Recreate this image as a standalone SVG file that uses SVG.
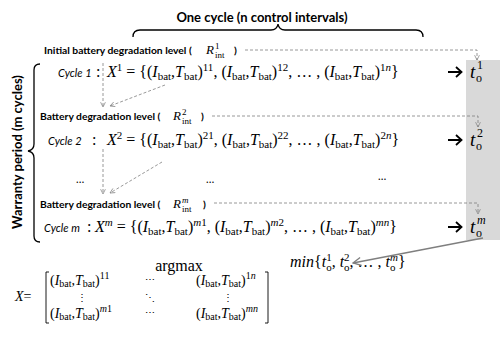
<svg xmlns="http://www.w3.org/2000/svg" width="500" height="337" viewBox="0 0 500 337">
<defs>
<style>
.b{font-family:Lato,"Liberation Sans",sans-serif;font-weight:bold;fill:#000}
.c{font-family:Lato,"Liberation Sans",sans-serif;font-style:italic;font-size:11px;fill:#000}
.m{font-family:"Liberation Serif",serif;fill:#000}
.i{font-style:italic}
.sb{font-size:11px;font-style:normal}
.sbi{font-size:11px;font-style:italic}
.ms{font-size:10px;font-style:normal}
.msi{font-size:10px;font-style:italic}
.dash{fill:none;stroke:#7f7f7f;stroke-width:0.8;stroke-dasharray:3 2;marker-end:url(#ah)}
.br{fill:none;stroke:#000;stroke-width:1.3}
</style>
<marker id="ah" viewBox="0 0 10 10" refX="9" refY="5" markerWidth="6" markerHeight="6" orient="auto" markerUnits="userSpaceOnUse">
<path d="M1,1 L9,5 L1,9" fill="none" stroke="#7f7f7f" stroke-width="1.2"/>
</marker>
<marker id="ah2" viewBox="0 0 10 10" refX="9" refY="5" markerWidth="10" markerHeight="10" orient="auto" markerUnits="userSpaceOnUse">
<path d="M1,1 L9,5 L1,9" fill="none" stroke="#7f7f7f" stroke-width="1.3"/>
</marker>
</defs>
<rect width="500" height="337" fill="#fff"/>
<rect id="panel" x="466" y="60" width="34" height="180" fill="#d9d9d9"/>

<g id="title">
<text class="b" x="262" y="22" font-size="13" text-anchor="middle">One cycle (n control intervals)</text>
<path class="br" d="M133,37 Q133,30 140,30 L271,30 Q277,30 278,24 Q279,30 285,30 L416,30 Q423,30 423,37"/>
</g>

<g id="warranty">
<text class="b" x="22" y="152" font-size="13" text-anchor="middle" transform="rotate(-90 22 152)">Warranty period (m cycles)</text>
<path class="br" d="M40,64 Q34,64 34,70 L34,144 Q34,150 28,151 Q34,152 34,158 L34,236 Q34,242 40,242"/>
</g>

<g id="level1">
<text class="b" x="44" y="54" font-size="10.3">Initial battery degradation level (</text>
<text class="m i" x="206" y="54" font-size="13">R</text>
<text class="m" x="215" y="48.5" font-size="9">1</text>
<text class="m" x="215" y="57.5" font-size="9">int</text>
<text class="b" x="234" y="54" font-size="10.3">)</text>
</g>

<g id="cycle1">
<text class="c" x="58" y="77">Cycle 1</text>
<text class="m" x="96" y="77" font-size="16">:</text>
<text class="m" x="107" y="77" font-size="16"><tspan class="i">X</tspan><tspan class="sb" dy="-6">1</tspan><tspan dy="6"> = {(</tspan><tspan class="i">I</tspan><tspan class="sb" dy="3">bat</tspan><tspan dy="-3">,</tspan><tspan class="i">T</tspan><tspan class="sb" dy="3">bat</tspan><tspan dy="-3">)</tspan><tspan class="sb" dy="-6">11</tspan><tspan dy="6">,  (</tspan><tspan class="i">I</tspan><tspan class="sb" dy="3">bat</tspan><tspan dy="-3">,</tspan><tspan class="i">T</tspan><tspan class="sb" dy="3">bat</tspan><tspan dy="-3">)</tspan><tspan class="sb" dy="-6">12</tspan><tspan dy="6">, … ,  (</tspan><tspan class="i">I</tspan><tspan class="sb" dy="3">bat</tspan><tspan dy="-3">,</tspan><tspan class="i">T</tspan><tspan class="sb" dy="3">bat</tspan><tspan dy="-3">)</tspan><tspan class="sb" dy="-6">1</tspan><tspan class="sbi">n</tspan><tspan dy="6">}</tspan></text>
</g>

<g id="level2">
<text class="b" x="40" y="120" font-size="10.3">Battery degradation level (</text>
<text class="m i" x="173" y="120" font-size="13">R</text>
<text class="m" x="182" y="114.5" font-size="9">2</text>
<text class="m" x="182" y="123.5" font-size="9">int</text>
<text class="b" x="201" y="120" font-size="10.3">)</text>
</g>

<g id="cycle2">
<text class="c" x="48" y="145">Cycle 2</text>
<text class="m" x="92" y="145" font-size="16">:</text>
<text class="m" x="107" y="145" font-size="16"><tspan class="i">X</tspan><tspan class="sb" dy="-6">2</tspan><tspan dy="6"> = {(</tspan><tspan class="i">I</tspan><tspan class="sb" dy="3">bat</tspan><tspan dy="-3">,</tspan><tspan class="i">T</tspan><tspan class="sb" dy="3">bat</tspan><tspan dy="-3">)</tspan><tspan class="sb" dy="-6">21</tspan><tspan dy="6">,  (</tspan><tspan class="i">I</tspan><tspan class="sb" dy="3">bat</tspan><tspan dy="-3">,</tspan><tspan class="i">T</tspan><tspan class="sb" dy="3">bat</tspan><tspan dy="-3">)</tspan><tspan class="sb" dy="-6">22</tspan><tspan dy="6">, … ,  (</tspan><tspan class="i">I</tspan><tspan class="sb" dy="3">bat</tspan><tspan dy="-3">,</tspan><tspan class="i">T</tspan><tspan class="sb" dy="3">bat</tspan><tspan dy="-3">)</tspan><tspan class="sb" dy="-6">2</tspan><tspan class="sbi">n</tspan><tspan dy="6">}</tspan></text>
</g>

<g id="ellipses">
<text class="c" x="76" y="183" style="font-style:normal">…</text>
<text class="c" x="206" y="183" style="font-style:normal">…</text>
<text class="c" x="378" y="180" style="font-style:normal">…</text>
</g>

<g id="levelm">
<text class="b" x="40" y="208" font-size="10.3">Battery degradation level (</text>
<text class="m i" x="173" y="208" font-size="13">R</text>
<text class="m i" x="182" y="202.5" font-size="9">m</text>
<text class="m" x="182" y="211.5" font-size="9">int</text>
<text class="b" x="203" y="208" font-size="10.3">)</text>
</g>

<g id="cyclem">
<text class="c" x="44" y="232">Cycle m</text>
<text class="m" x="87" y="232" font-size="16">:</text>
<text class="m" x="95" y="232" font-size="16"><tspan class="i">X</tspan><tspan class="sbi" dy="-6">m</tspan><tspan dy="6"> = {(</tspan><tspan class="i">I</tspan><tspan class="sb" dy="3">bat</tspan><tspan dy="-3">,</tspan><tspan class="i">T</tspan><tspan class="sb" dy="3">bat</tspan><tspan dy="-3">)</tspan><tspan class="sbi" dy="-6">m</tspan><tspan class="sb">1</tspan><tspan dy="6">,  (</tspan><tspan class="i">I</tspan><tspan class="sb" dy="3">bat</tspan><tspan dy="-3">,</tspan><tspan class="i">T</tspan><tspan class="sb" dy="3">bat</tspan><tspan dy="-3">)</tspan><tspan class="sbi" dy="-6">m</tspan><tspan class="sb">2</tspan><tspan dy="6">, … ,  (</tspan><tspan class="i">I</tspan><tspan class="sb" dy="3">bat</tspan><tspan dy="-3">,</tspan><tspan class="i">T</tspan><tspan class="sb" dy="3">bat</tspan><tspan dy="-3">)</tspan><tspan class="sbi" dy="-6">mn</tspan><tspan dy="6">}</tspan></text>
</g>

<g id="outputs">
<path d="M448,72 H461 M456,67 L461.5,72 L456,77" fill="none" stroke="#000" stroke-width="1.8"/>
<text class="m i" x="470" y="78" font-size="19">t</text>
<text class="m" x="476" y="82" font-size="12">o</text>
<text class="m" x="477" y="69" font-size="12">1</text>
<path d="M448,140 H461 M456,135 L461.5,140 L456,145" fill="none" stroke="#000" stroke-width="1.8"/>
<text class="m i" x="470" y="146" font-size="19">t</text>
<text class="m" x="476" y="150" font-size="12">o</text>
<text class="m" x="477" y="137" font-size="12">2</text>
<path d="M448,227 H461 M456,222 L461.5,227 L456,232" fill="none" stroke="#000" stroke-width="1.8"/>
<text class="m i" x="470" y="233" font-size="19">t</text>
<text class="m" x="476" y="237" font-size="12">o</text>
<text class="m i" x="477" y="224" font-size="12">m</text>
</g>

<g id="objective">
<text class="m" x="290" y="267" font-size="16"><tspan class="i">min</tspan>{<tspan class="i">t</tspan><tspan class="sb" dy="4">o</tspan><tspan class="sb" dx="-5.5" dy="-10">1</tspan><tspan dy="6">, </tspan><tspan class="i">t</tspan><tspan class="sb" dy="4">o</tspan><tspan class="sb" dx="-5.5" dy="-10">2</tspan><tspan dy="6">, … , </tspan><tspan class="i">t</tspan><tspan class="sb" dy="4">o</tspan><tspan class="sbi" dx="-5.5" dy="-10">m</tspan><tspan dy="6">}</tspan></text>
</g>

<g id="argmax">
<text class="m" x="179" y="271" font-size="16" text-anchor="middle">argmax</text>
<text class="m" x="15" y="301" font-size="14"><tspan class="i">X</tspan>=</text>
<path d="M49,272 H46 V323 H49 M265,272 H268 V323 H265" fill="none" stroke="#000" stroke-width="0.9"/>
<text class="m" x="50" y="285" font-size="14">(<tspan class="i">I</tspan><tspan class="ms" dy="2">bat</tspan><tspan dy="-2">,</tspan><tspan class="i">T</tspan><tspan class="ms" dy="2">bat</tspan><tspan dy="-2">)</tspan><tspan class="ms" dy="-6">11</tspan></text>
<text class="m" x="196" y="285" font-size="14">(<tspan class="i">I</tspan><tspan class="ms" dy="2">bat</tspan><tspan dy="-2">,</tspan><tspan class="i">T</tspan><tspan class="ms" dy="2">bat</tspan><tspan dy="-2">)</tspan><tspan class="ms" dy="-6">1</tspan><tspan class="msi">n</tspan></text>
<text class="m" x="50" y="318" font-size="14">(<tspan class="i">I</tspan><tspan class="ms" dy="2">bat</tspan><tspan dy="-2">,</tspan><tspan class="i">T</tspan><tspan class="ms" dy="2">bat</tspan><tspan dy="-2">)</tspan><tspan class="msi" dy="-6">m</tspan><tspan class="ms">1</tspan></text>
<text class="m" x="196" y="318" font-size="14">(<tspan class="i">I</tspan><tspan class="ms" dy="2">bat</tspan><tspan dy="-2">,</tspan><tspan class="i">T</tspan><tspan class="ms" dy="2">bat</tspan><tspan dy="-2">)</tspan><tspan class="msi" dy="-6">mn</tspan></text>
<text class="m" x="150" y="283" font-size="10" text-anchor="middle">⋯</text>
<text class="m" x="150" y="316" font-size="10" text-anchor="middle">⋯</text>
<text class="m" x="82" y="301" font-size="10" text-anchor="middle">⋮</text>
<text class="m" x="228" y="301" font-size="10" text-anchor="middle">⋮</text>
<text class="m" x="150" y="301" font-size="10" text-anchor="middle">⋱</text>
</g>

<g id="connectors">
<path class="dash" d="M245,50 H477 V60"/>
<path class="dash" d="M212,116 H478 V127"/>
<path class="dash" d="M214,203 H478 V214"/>
<path class="dash" d="M103,63 V107"/>
<path class="dash" d="M165,85 L110,106"/>
<path class="dash" d="M103,149 V194"/>
<path class="dash" d="M162,162 L110,193"/>
<path d="M483,238 L353,263" fill="none" stroke="#7f7f7f" stroke-width="1.3" marker-end="url(#ah2)"/>
</g>
</svg>
